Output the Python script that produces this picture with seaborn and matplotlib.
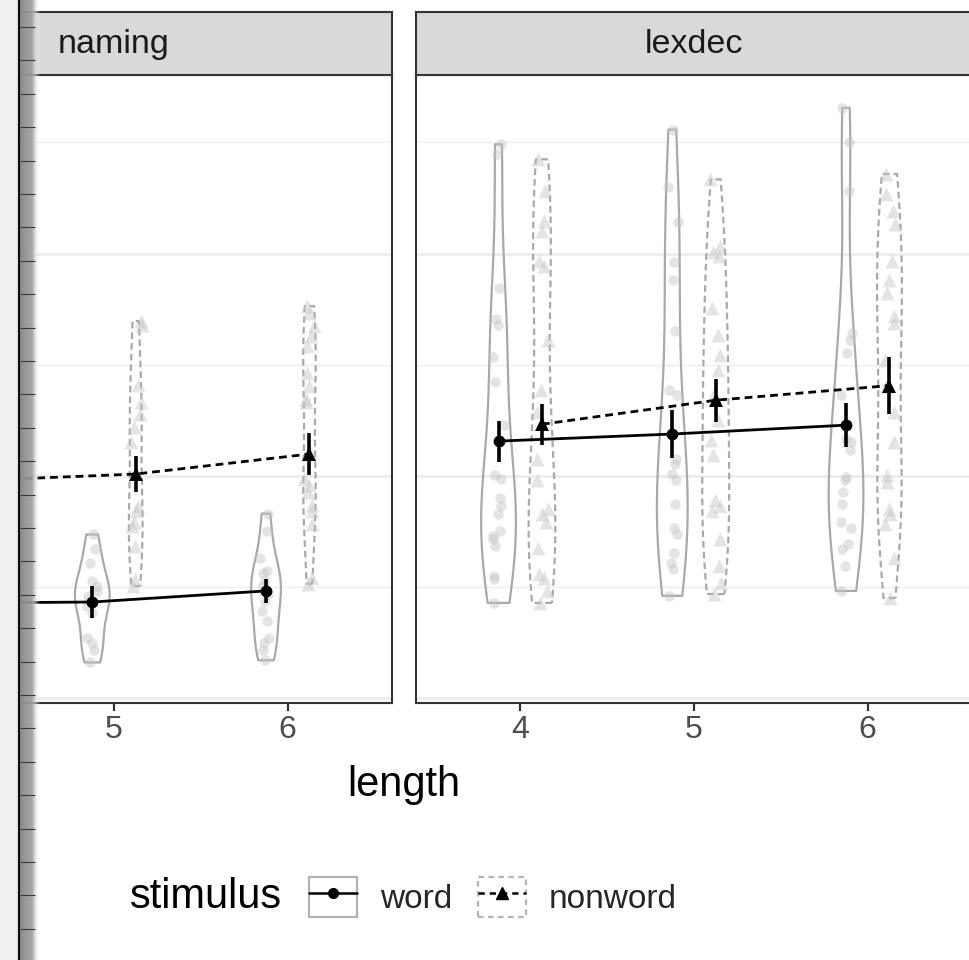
import numpy as np
import pandas as pd
import seaborn as sns
import matplotlib.pyplot as plt
import matplotlib.patches as mpatches
from matplotlib.lines import Line2D
from matplotlib.legend_handler import HandlerTuple

np.random.seed(3)

tasks = ['naming', 'lexdec']
stimuli = ['word', 'nonword']
lengths = [4, 5, 6]

# cell means (rt) and CI half-widths, per length 4/5/6
mean_naming_word = [0.713, 0.716, 0.741]
ci_naming_word = [0.035, 0.035, 0.027]
mean_naming_nonword = [0.988, 1.004, 1.049]
ci_naming_nonword = [0.045, 0.041, 0.047]
mean_lexdec_word = [1.078, 1.094, 1.114]
ci_lexdec_word = [0.046, 0.054, 0.050]
mean_lexdec_nonword = [1.116, 1.170, 1.203]
ci_lexdec_nonword = [0.046, 0.048, 0.065]

# participant means per cell (naming / length 4 is outside the visible crop)
naming_word_5 = [0.868, 0.835, 0.804, 0.763, 0.752, 0.741, 0.730, 0.719, 0.708, 0.692, 0.636, 0.623, 0.607, 0.580]
naming_nonword_5 = [1.348, 1.339, 1.205, 1.165, 1.138, 1.109, 1.076, 0.931, 0.920, 0.897, 0.886, 0.841, 0.768, 0.752]
naming_word_6 = [0.915, 0.875, 0.815, 0.786, 0.781, 0.763, 0.752, 0.734, 0.719, 0.696, 0.674, 0.636, 0.623, 0.607, 0.585]
naming_nonword_6 = [1.382, 1.366, 1.337, 1.315, 1.292, 1.232, 1.203, 1.172, 1.165, 1.054, 0.993, 0.980, 0.964, 0.935,
                    0.920, 0.891, 0.770, 0.757]
lexdec_word_4 = [1.746, 1.723, 1.422, 1.353, 1.339, 1.268, 1.210, 1.114, 1.002, 0.993, 0.949, 0.931, 0.915, 0.875,
                 0.864, 0.857, 0.841, 0.775, 0.768, 0.714]
lexdec_nonword_4 = [1.712, 1.641, 1.574, 1.551, 1.484, 1.471, 1.306, 1.194, 1.143, 1.038, 0.991, 0.926, 0.915, 0.897,
                    0.837, 0.779, 0.770, 0.741, 0.714]
lexdec_word_5 = [1.779, 1.650, 1.571, 1.482, 1.440, 1.326, 1.192, 1.181, 1.038, 1.027, 1.004, 0.991, 0.937, 0.882,
                 0.870, 0.826, 0.804, 0.790, 0.730]
lexdec_nonword_5 = [1.667, 1.518, 1.504, 1.495, 1.377, 1.317, 1.272, 1.237, 1.183, 1.125, 1.080, 1.047, 0.946, 0.931,
                    0.920, 0.857, 0.797, 0.759, 0.734]
lexdec_word_6 = [1.828, 1.752, 1.641, 1.321, 1.306, 1.277, 1.181, 1.083, 1.076, 1.058, 0.998, 0.991, 0.964, 0.937,
                 0.897, 0.882, 0.846, 0.835, 0.797, 0.741]
lexdec_nonword_6 = [1.679, 1.634, 1.596, 1.567, 1.484, 1.440, 1.411, 1.359, 1.344, 1.261, 1.203, 1.143, 1.076, 1.002,
                    0.987, 0.926, 0.913, 0.891, 0.815, 0.725]

cells = [
    ('naming', 'word', 5, naming_word_5), ('naming', 'nonword', 5, naming_nonword_5),
    ('naming', 'word', 6, naming_word_6), ('naming', 'nonword', 6, naming_nonword_6),
    ('lexdec', 'word', 4, lexdec_word_4), ('lexdec', 'nonword', 4, lexdec_nonword_4),
    ('lexdec', 'word', 5, lexdec_word_5), ('lexdec', 'nonword', 5, lexdec_nonword_5),
    ('lexdec', 'word', 6, lexdec_word_6), ('lexdec', 'nonword', 6, lexdec_nonword_6),
]
dodge = {'word': -0.125, 'nonword': 0.125}

pts = pd.DataFrame([(t, s, L, v) for t, s, L, vals in cells for v in vals],
                   columns=['task', 'stimulus', 'length', 'rt'])
pts['xpos'] = pts['length'] + pts['stimulus'].map(dodge)

means = pd.DataFrame({
    'task': ['naming'] * 6 + ['lexdec'] * 6,
    'stimulus': (['word'] * 3 + ['nonword'] * 3) * 2,
    'length': lengths * 4,
    'rt': mean_naming_word + mean_naming_nonword + mean_lexdec_word + mean_lexdec_nonword,
    'ci': ci_naming_word + ci_naming_nonword + ci_lexdec_word + ci_lexdec_nonword,
})
means['xpos'] = means['length'] + means['stimulus'].map(dodge)

sns.set_theme(style='white')
plt.rcParams['font.family'] = ['Liberation Sans', 'DejaVu Sans']

W, H = 970, 960
fig = plt.figure(figsize=(W / 100, H / 100), dpi=100)

VCOL = '#a9a9a9'
VDASH = (0, (3.0, 1.8))
LDASH = (0, (2.8, 1.8))
panel_px = {'naming': (-164, 392), 'lexdec': (416, 972)}
top_px, bot_px, strip_top_px = 75, 703, 12

for task in tasks:
    x0, x1 = panel_px[task]
    ax = fig.add_axes([x0 / W, 1 - bot_px / H, (x1 - x0) / W, (bot_px - top_px) / H])
    d = pts[pts.task == task]

    n0 = len(ax.collections)
    sns.violinplot(data=d, x='xpos', y='rt', hue='stimulus', hue_order=stimuli,
                   native_scale=True, dodge=False, fill=False, inner=None, cut=0,
                   bw_adjust=0.9, density_norm='area', common_norm=True, width=0.8,
                   palette={'word': VCOL, 'nonword': VCOL}, linewidth=1.6,
                   legend=False, ax=ax)
    for coll in ax.collections[n0:]:
        paths = coll.get_paths()
        if not paths:
            continue
        xm = paths[0].vertices[:, 0].mean()
        if xm > np.round(xm):
            coll.set_linestyle(VDASH)

    for stim, mk, sz in [('word', 'o', 7.5), ('nonword', '^', 10)]:
        sns.stripplot(data=d[d.stimulus == stim], x='xpos', y='rt', native_scale=True,
                      jitter=0.035, marker=mk, size=sz, color='#c4c4c4', alpha=0.45,
                      linewidth=0, ax=ax, zorder=1)

    m = means[means.task == task]
    for stim, mk, ms, ls in [('word', 'o', 8.5, '-'), ('nonword', '^', 10, LDASH)]:
        ms_df = m[m.stimulus == stim]
        sns.lineplot(data=ms_df, x='xpos', y='rt', color='black', lw=2.0, linestyle=ls,
                     marker=mk, markersize=ms, markeredgewidth=0, markeredgecolor='black',
                     ax=ax, zorder=5, legend=False)
        ax.errorbar(ms_df['xpos'], ms_df['rt'], yerr=ms_df['ci'], fmt='none',
                    ecolor='black', elinewidth=2.6, capsize=0, zorder=5)

    ax.set_xlim(3.4, 6.6)
    ax.set_ylim(0.4888, 1.9018)
    # naming's length-4 tick lies outside the cropped picture
    shown = [L for L in lengths if task == 'lexdec' or L > 4]
    ax.set_xticks(shown)
    ax.set_xticklabels([str(L) for L in shown])
    ax.set_yticks([0.5, 1.0, 1.5])
    ax.set_yticks([0.75, 1.25, 1.75], minor=True)
    ax.grid(False)
    ax.grid(axis='y', which='major', color='#ebebeb', lw=1.8)
    ax.grid(axis='y', which='minor', color='#efefef', lw=1.0)
    ax.set_axisbelow(True)
    ax.tick_params(axis='y', which='both', length=0, labelleft=False)
    ax.tick_params(axis='x', which='major', bottom=True, length=5.8, width=1.6, color='#333333',
                   labelsize=23, labelcolor='#4d4d4d', pad=3)
    ax.set_xlabel('')
    ax.set_ylabel('')
    for s in ax.spines.values():
        s.set_visible(True)
        s.set_color('#333333')
        s.set_linewidth(1.5)

    # facet strip
    sax = fig.add_axes([x0 / W, 1 - top_px / H, (x1 - x0) / W, (top_px - strip_top_px) / H])
    sax.set_facecolor('#d9d9d9')
    sax.set_xticks([])
    sax.set_yticks([])
    for s in sax.spines.values():
        s.set_visible(True)
        s.set_color('#333333')
        s.set_linewidth(1.5)
    sax.text(0.5, 0.48, task, transform=sax.transAxes, ha='center', va='center',
             fontsize=24.5, color='#1a1a1a')

fig.text(404 / W, 1 - 785 / H, 'length', ha='center', va='center', fontsize=30, color='black')
fig.text(130 / W, 1 - 897 / H, 'stimulus', ha='left', va='center', fontsize=30, color='black')

h_word = (mpatches.Rectangle((0, 0), 1, 1, facecolor='white', edgecolor='#b3b3b3', lw=1.6),
          Line2D([], [], color='black', lw=1.8, marker='o', markersize=7))
h_non = (mpatches.Rectangle((0, 0), 1, 1, facecolor='white', edgecolor='#b3b3b3', lw=1.6,
                            linestyle=(0, (2.5, 2))),
         Line2D([], [], color='black', lw=1.8, linestyle=(0, (2.5, 2)), marker='^', markersize=8))
fig.legend([h_word, h_non], stimuli, loc='center left', bbox_to_anchor=(309 / W, 1 - 897 / H),
           ncol=2, frameon=False, fontsize=24, handlelength=1.44, handleheight=1.44,
           handletextpad=0.7, columnspacing=0.75, borderpad=0, borderaxespad=0,
           handler_map={tuple: HandlerTuple(ndivide=1)})

# screenshot edge at the left border
rax = fig.add_axes([0, 0, 40 / W, 1], zorder=20)
rax.axis('off')
rax.axvspan(0, 18, color='#f0f0f0', lw=0)
xs = np.arange(20, 40) + 0.5
grad = np.interp(xs, [20, 32, 36, 40], [0.55, 0.62, 0.85, 1.0])
img = np.ones((2, grad.size, 4))
img[..., :3] = grad[None, :, None]
img[..., 3] = np.interp(xs, [20, 33, 40], [1.0, 0.9, 0.0])[None, :]
rax.imshow(img, extent=[20, 40, H, 0], aspect='auto', interpolation='bilinear')
rax.hlines(np.arange(27, H, 33.4), 20, 35, color='#3a3a3a', lw=0.8)
rax.axvline(19, color='#111111', lw=1.6)
rax.set_xlim(0, 40)
rax.set_ylim(H, 0)

fig.savefig('out.png', dpi=100)
